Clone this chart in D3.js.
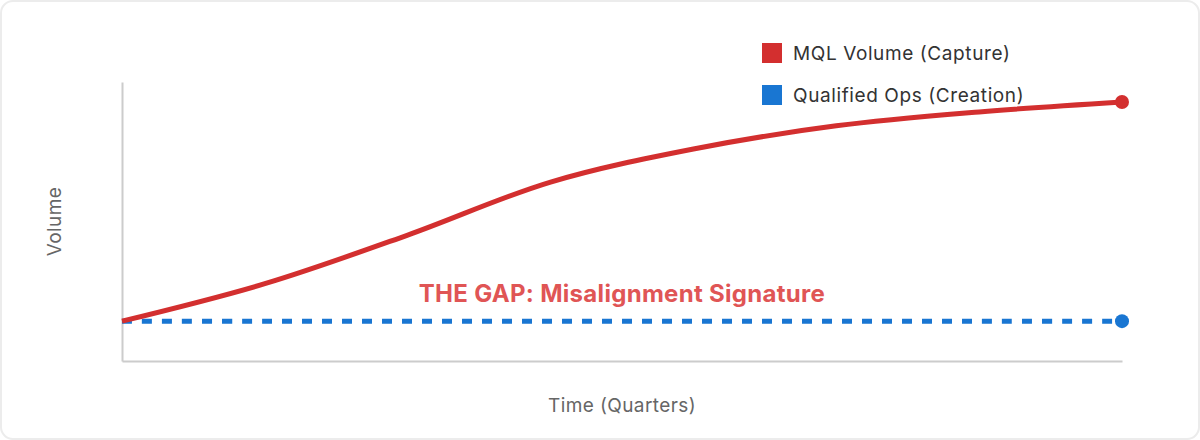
<!DOCTYPE html>
<html lang="en">
  <head>
    <meta charset="UTF-8" />
    <title>MQL Volume vs Qualified Ops</title>
    <script src="https://d3js.org/d3.v7.min.js"></script>
    <style>
      html,
      body {
        margin: 0;
        padding: 0;
        background: #ffffff;
      }
      svg {
        display: block;
        font-family: Inter, "Noto Sans", sans-serif;
      }
      .axis-title {
        font-size: 19px;
        letter-spacing: 0.4px;
        fill: #666666;
      }
      .legend-label {
        font-size: 19px;
        letter-spacing: 0.6px;
        fill: #333333;
      }
    </style>
  </head>

  <body>
    <svg id="chart" width="1200" height="440"></svg>
    <script>
      const quarters = ["Q1", "Q2", "Q3", "Q4", "Q5", "Q6", "Q7", "Q8"];
      const mqlVolume = [10, 19.4, 31.6, 44.9, 53.2, 59, 62.5, 65];
      const qualifiedOps = [10, 10, 10, 10, 10, 10, 10, 10];
      const seriesNames = ["MQL Volume (Capture)", "Qualified Ops (Creation)"];
      const gapLabel = "THE GAP: Misalignment Signature";

      const svg = d3.select("#chart"),
        width = +svg.attr("width"),
        height = +svg.attr("height"),
        margin = { top: 82, right: 78, bottom: 79, left: 122 },
        chartWidth = width - margin.left - margin.right,
        chartHeight = height - margin.top - margin.bottom;

      const colors = d3
        .scaleOrdinal()
        .domain(seriesNames)
        .range(["#d32f2f", "#1976d2"]);

      // card background
      svg
        .append("rect")
        .attr("x", 1)
        .attr("y", 1)
        .attr("width", width - 2)
        .attr("height", height - 2)
        .attr("rx", 12)
        .attr("fill", "#ffffff")
        .attr("stroke", "#ececec")
        .attr("stroke-width", 2);

      const chartArea = svg
        .append("g")
        .attr("transform", `translate(${margin.left},${margin.top})`);

      const x = d3.scalePoint().domain(quarters).range([0, chartWidth]);
      const y = d3.scaleLinear().domain([0, 70]).range([chartHeight, 0]);

      // axes without ticks
      chartArea
        .append("g")
        .attr("transform", `translate(0,${chartHeight})`)
        .call(d3.axisBottom(x).tickSize(0).tickFormat("").tickSizeOuter(0))
        .call((g) => g.select(".domain").attr("stroke", "#cccccc").attr("stroke-width", 2));

      chartArea
        .append("g")
        .call(d3.axisLeft(y).tickValues([]).tickSizeOuter(0))
        .call((g) => g.select(".domain").attr("stroke", "#cccccc").attr("stroke-width", 2));

      chartArea
        .append("text")
        .attr("class", "axis-title")
        .attr("x", chartWidth / 2)
        .attr("y", chartHeight + 51)
        .attr("text-anchor", "middle")
        .text("Time (Quarters)");

      chartArea
        .append("text")
        .attr("class", "axis-title")
        .attr("transform", "rotate(-90)")
        .attr("x", -chartHeight / 2)
        .attr("y", -61)
        .attr("text-anchor", "middle")
        .text("Volume");

      const line = d3
        .line()
        .x((d, i) => x(quarters[i]))
        .y((d) => y(d))
        .curve(d3.curveCatmullRom);

      // annotation
      chartArea
        .append("text")
        .attr("x", chartWidth / 2)
        .attr("y", y(10) - 19)
        .attr("text-anchor", "middle")
        .style("font-size", "24px")
        .style("font-weight", "bold")
        .style("letter-spacing", "0.3px")
        .attr("fill", "#e05555")
        .text(gapLabel);

      chartArea
        .append("path")
        .datum(qualifiedOps)
        .attr("fill", "none")
        .attr("stroke", colors(seriesNames[1]))
        .attr("stroke-width", 5)
        .attr("stroke-dasharray", "10,10")
        .attr("d", line);

      chartArea
        .append("path")
        .datum(mqlVolume)
        .attr("fill", "none")
        .attr("stroke", colors(seriesNames[0]))
        .attr("stroke-width", 5)
        .attr("d", line);

      const last = quarters[quarters.length - 1];
      chartArea
        .selectAll(".end-dot")
        .data([
          { name: seriesNames[0], v: mqlVolume[mqlVolume.length - 1] },
          { name: seriesNames[1], v: qualifiedOps[qualifiedOps.length - 1] },
        ])
        .enter()
        .append("circle")
        .attr("class", "end-dot")
        .attr("cx", x(last))
        .attr("cy", (d) => y(d.v))
        .attr("r", 7)
        .attr("fill", (d) => colors(d.name));

      // legend
      const legend = svg.append("g").attr("transform", "translate(762, 43)");
      const size = 20;

      legend
        .selectAll("rect")
        .data(seriesNames)
        .enter()
        .append("rect")
        .attr("x", 0)
        .attr("y", (d, i) => i * 42)
        .attr("width", size)
        .attr("height", size)
        .attr("fill", (d) => colors(d));

      legend
        .selectAll("text")
        .data(seriesNames)
        .enter()
        .append("text")
        .attr("class", "legend-label")
        .attr("x", 31)
        .attr("y", (d, i) => i * 42 + size / 2)
        .attr("dominant-baseline", "central")
        .text((d) => d);
    </script>
  </body>
</html>
